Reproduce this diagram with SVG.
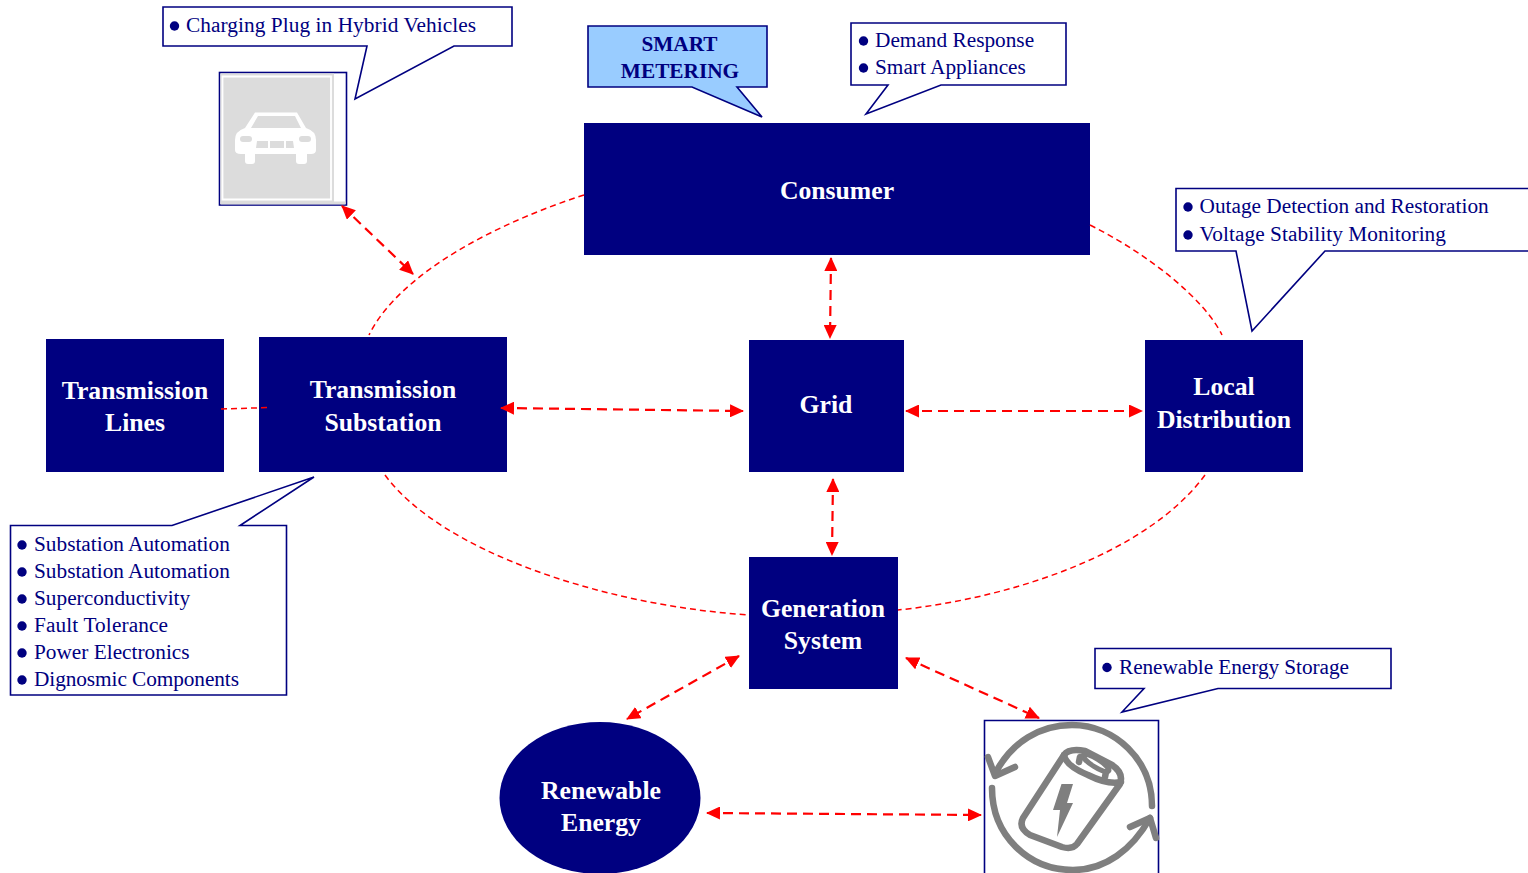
<svg xmlns="http://www.w3.org/2000/svg" width="1528" height="873" viewBox="0 0 1528 873">
<style>
text{font-family:"Liberation Serif","Times New Roman",serif}
.box{fill:#000080}
.nl{fill:#fff;font-size:25.700px;font-weight:bold;text-anchor:middle}
.call{fill:#fff;stroke:#000080;stroke-width:1.600}
.t{fill:#000080;font-size:21.300px}
.b{fill:#000080}
.sm{fill:#000080;font-size:21.300px;font-weight:bold;text-anchor:middle}
.arr{fill:none;stroke:#f00;stroke-width:2.200;stroke-dasharray:10 6;marker-start:url(#ah);marker-end:url(#ah)}
.cur{fill:none;stroke:#f00;stroke-width:1.500;stroke-dasharray:6 4}
.ic{fill:none;stroke:#7f7f7f;stroke-width:6.500;stroke-linecap:round;stroke-linejoin:round}
</style>
<defs>
<marker id="ah" viewBox="0 0 14 13" refX="13" refY="6.500" markerWidth="14" markerHeight="13" markerUnits="userSpaceOnUse" orient="auto-start-reverse"><path d="M0 0L14 6.500L0 13Z" fill="#f00"/></marker>
</defs>
<g id="consumer"><rect class="box" x="584" y="123" width="506" height="132"/><text class="nl" x="837" y="199">Consumer</text></g>
<g id="transmission-lines"><rect class="box" x="46" y="339" width="178" height="133"/><text class="nl" x="135" y="399">Transmission</text><text class="nl" x="135" y="431">Lines</text></g>
<g id="transmission-substation"><rect class="box" x="259" y="337" width="248" height="135"/><text class="nl" x="383" y="398">Transmission</text><text class="nl" x="383" y="431">Substation</text></g>
<g id="grid"><rect class="box" x="749" y="340" width="155" height="132"/><text class="nl" x="826" y="413">Grid</text></g>
<g id="local-distribution"><rect class="box" x="1145" y="340" width="158" height="132"/><text class="nl" x="1224" y="395">Local</text><text class="nl" x="1224" y="428">Distribution</text></g>
<g id="generation-system"><rect class="box" x="749" y="557" width="149" height="132"/><text class="nl" x="823" y="617">Generation</text><text class="nl" x="823" y="649">System</text></g>
<g id="renewable-energy"><ellipse class="box" cx="600" cy="798" rx="100.500" ry="76"/><text class="nl" x="601" y="799">Renewable</text><text class="nl" x="601" y="831">Energy</text></g>
<g id="callout-plug"><path class="call" d="M163 7H512V46H454L355 99L367 46H163Z"/><circle class="b" cx="174.500" cy="26" r="4.700"/><text class="t" x="186" y="32" textLength="290">Charging Plug in Hybrid Vehicles</text></g>
<g id="car"><rect x="219.500" y="72.500" width="127" height="132.500" fill="#fff" stroke="#000080" stroke-width="1.600"/><rect x="220.500" y="73.500" width="113.500" height="130.500" fill="#dcdcdc"/><rect x="220.500" y="201.500" width="125" height="3" fill="#dcdcdc"/><path d="M222.500 76.500H331V199.500H222.500Z" fill="#dcdcdc" stroke="#fff" stroke-width="1.800"/>
<path d="M255 112.500H297L306 128Q316 131 316 140V150Q316 154 311 154H307V161Q307 164 304 164H299Q296 164 296 161V154H255V161Q255 164 252 164H248Q245 164 245 161V154H241Q235 154 235 150V140Q235 131 245 128ZM258 116L251 128H301L295 116Z" fill="#fff" fill-rule="evenodd"/>
<rect x="240" y="136" width="12" height="6" rx="3" fill="#dcdcdc"/><rect x="299" y="136" width="12" height="6" rx="3" fill="#dcdcdc"/><path d="M257 141H268V148H256ZM270 141H284V148H270ZM286 141H293L294 148H286Z" fill="#dcdcdc"/></g>
<g id="smart-metering"><path d="M588 26H767V87H737L762 117L692 87H588Z" fill="#99ccff" stroke="#000080" stroke-width="1.600"/><text class="sm" x="679.500" y="51">SMART</text><text class="sm" x="680" y="78">METERING</text></g>
<g id="callout-demand"><path class="call" d="M851 23H1066V85H941L866 114L888 85H851Z"/><circle class="b" cx="863.500" cy="41" r="4.700"/><text class="t" x="875" y="47">Demand Response</text><circle class="b" cx="863.500" cy="68" r="4.700"/><text class="t" x="875" y="74">Smart Appliances</text></g>
<g id="callout-outage"><path class="call" d="M1528 188.500H1176V251H1236L1252 331L1325 251H1528"/><circle class="b" cx="1188" cy="207" r="4.700"/><text class="t" x="1199.500" y="213">Outage Detection and Restoration</text><circle class="b" cx="1188" cy="235" r="4.700"/><text class="t" x="1199.500" y="241" textLength="246.500">Voltage Stability Monitoring</text></g>
<g id="callout-substation"><path class="call" d="M10.500 525.500H172L314 477L240 525.500H286.500V695H10.500Z"/>
<circle class="b" cx="22" cy="545" r="4.700"/><text class="t" x="34" y="551">Substation Automation</text>
<circle class="b" cx="22" cy="572" r="4.700"/><text class="t" x="34" y="578">Substation Automation</text>
<circle class="b" cx="22" cy="599" r="4.700"/><text class="t" x="34" y="605">Superconductivity</text>
<circle class="b" cx="22" cy="626" r="4.700"/><text class="t" x="34" y="632" textLength="134">Fault Tolerance</text>
<circle class="b" cx="22" cy="653" r="4.700"/><text class="t" x="34" y="659">Power Electronics</text>
<circle class="b" cx="22" cy="680" r="4.700"/><text class="t" x="34" y="686" textLength="205">Dignosmic Components</text></g>
<g id="callout-storage"><path class="call" d="M1095 648.500H1391V688.500H1218L1122 712L1144 688.500H1095Z"/><circle class="b" cx="1107" cy="667.500" r="4.700"/><text class="t" x="1119" y="674" textLength="230">Renewable Energy Storage</text></g>
<g id="battery"><path d="M984.500 873V720.500H1158.500V873" fill="#fff" stroke="#000080" stroke-width="1.600"/>
<path class="ic" d="M1152 806C1152 760 1115 725 1072 725C1040 725 1012 742 996 772"/><path class="ic" d="M988 757L995 776L1015 767"/>
<path class="ic" d="M992 788C992 835 1028 870 1073 870C1105 870 1132 850 1150 818"/><path class="ic" d="M1130 827L1150 818L1156 838"/>
<path class="ic" d="M1064 755Q1069 748 1085 751L1112 765Q1124 773 1120 784L1077 844Q1072 850 1062 847L1030 835Q1018 828 1023 818Z"/>
<path class="ic" d="M1064 755Q1066 766 1088 775Q1108 785 1121 782"/>
<ellipse cx="1096" cy="763" rx="15" ry="4" transform="rotate(32 1096 763)" fill="#fff" stroke="#7f7f7f" stroke-width="5"/><path class="ic" d="M1080 757L1079 762M1106 772L1105 777"/>
<path d="M1061.500 784H1073L1067 803H1073L1057 837L1060 810H1053Z" fill="#7f7f7f"/></g>
<g id="connectors">
<path class="cur" d="M584 195C500 222 400 272 369 335"/>
<path class="cur" d="M1090 225C1150 255 1205 300 1222 335"/>
<path class="cur" d="M385 475C440 550 600 605 749 615"/>
<path class="cur" d="M1205 475C1150 550 1020 597 898 610"/>
<path class="cur" d="M221 409L270 407.500"/>
<path class="arr" d="M342 206L413 274"/>
<path class="arr" d="M831 258L830 338"/>
<path class="arr" d="M501 408L743 411"/>
<path class="arr" d="M906 411L1142 411"/>
<path class="arr" d="M833 479L832 555"/>
<path class="arr" d="M739 656L627 719"/>
<path class="arr" d="M906 658L1039 718"/>
<path class="arr" d="M707 813L981 815"/>
</g>
</svg>
